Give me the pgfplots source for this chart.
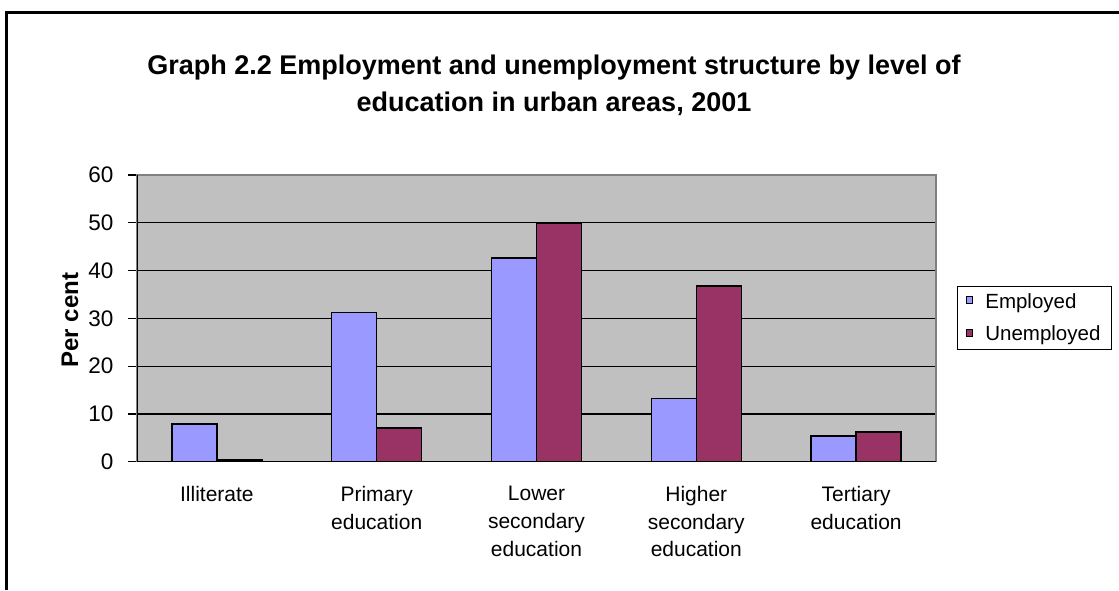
\documentclass[border=0pt]{standalone}
\usepackage{fontspec}
\setmainfont{Liberation Sans}
\usepackage{pgfplots}
\pgfplotsset{compat=1.18}
\definecolor{emp}{HTML}{9999FF}
\definecolor{unemp}{HTML}{993366}
\definecolor{plotbg}{HTML}{C0C0C0}
\begin{document}
\begin{tikzpicture}[x=1pt,y=1pt]
\path[use as bounding box] (0,0) rectangle (1119,590);
\draw[line width=3pt] (6.5,0) -- (6.5,577.5) -- (1119,577.5);
\node[font=\fontsize{27}{32}\selectfont\bfseries, anchor=base] at (554,515) {Graph 2.2 Employment and unemployment structure by level of};
\node[font=\fontsize{27}{32}\selectfont\bfseries, anchor=base] at (554,478.3) {education in urban areas, 2001};
\node[font=\fontsize{24}{28}\selectfont\bfseries, rotate=90] at (70,270) {Per cent};
\begin{axis}[
  at={(137pt,128.3pt)}, anchor=south west,
  scale only axis, width=799pt, height=286.7pt,
  xmin=-0.5, xmax=4.5, ymin=0, ymax=60,
  ytick={0,10,...,60}, ytick pos=left,
  tick align=outside, major tick length=9pt,
  ytick style={black, line width=1.2pt},
  xtick={0,1,2,3,4}, xtick style={draw=none},
  xticklabels={Illiterate, Primary\\education, Lower\\secondary\\education, Higher\\secondary\\education, Tertiary\\education},
  xticklabel style={align=center, font=\fontsize{21}{27.7}\selectfont, anchor=north, yshift=-12pt},
  yticklabel style={font=\fontsize{22.5}{26}\selectfont, anchor=east, xshift=-11pt},
  /pgf/number format/assume math mode=true,
  ymajorgrids, grid style={black, line width=1.2pt},
  axis background/.style={fill=plotbg},
  axis line style={draw=gray, line width=1.2pt},
  ybar=0pt, bar width=45pt,
  legend style={at={(rel axis cs:1.2203,0.501)}, anchor=east, draw=black, line width=1.2pt,
    font=\fontsize{20.5}{24}\selectfont, inner xsep=9pt, inner ysep=5pt, row sep=12pt,
    /tikz/every odd column/.append style={column sep=10pt}},
  legend cell align=left,
]
\addplot[fill=emp, draw=black, line width=1.5pt,
  legend image code/.code={\draw[fill=emp, draw=black, line width=1pt] (0pt,-2pt) rectangle (6pt,5pt);}]
  coordinates {(0,7.9) (1,31.2) (2,42.6) (3,13.2) (4,5.4)};
\addlegendentry{Employed}
\addplot[fill=unemp, draw=black, line width=1.5pt,
  legend image code/.code={\draw[fill=unemp, draw=black, line width=1pt] (0pt,-2pt) rectangle (6pt,5pt);}]
  coordinates {(0,0.4) (1,7.1) (2,50.0) (3,36.8) (4,6.2)};
\addlegendentry{Unemployed}
\draw[black, line width=1.5pt] (rel axis cs:0,1) -- (rel axis cs:0,0) -- (rel axis cs:1,0);
\end{axis}
\end{tikzpicture}
\end{document}
